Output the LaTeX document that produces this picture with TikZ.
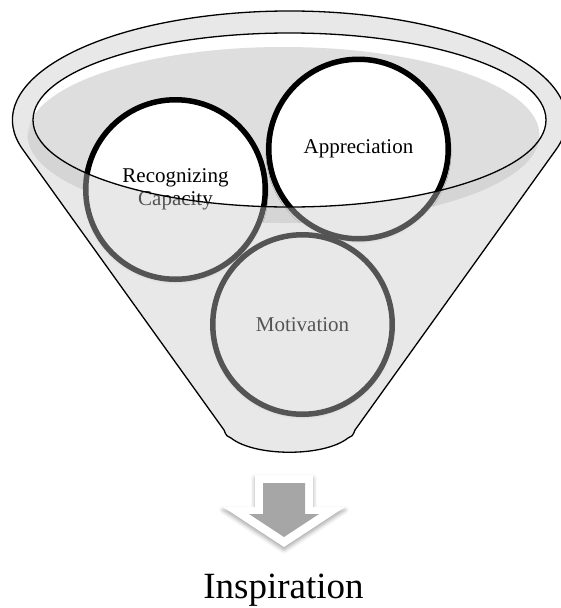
\documentclass[tikz,border=0pt]{standalone}
\usepackage{fontspec}
\setmainfont{Liberation Serif}
\usetikzlibrary{shadows.blur}
\begin{document}
\begin{tikzpicture}[x=1pt,y=-1pt,
  rim line/.style={line width=1.3pt,line join=round},
  rim fill/.style={fill=black!9},
  pit fill/.style={fill=black!13},
  front glass/.style={fill=black!21,fill opacity=0.42},
  ball/.style={circle,draw=black,line width=5.5pt,fill=white,minimum size=179.5pt,inner sep=0pt,
    align=center,font=\fontsize{21}{23}\selectfont,
    blur shadow={shadow xshift=0pt,shadow yshift=-2pt,shadow blur radius=3pt,shadow opacity=30}},
  arrow rim/.style={fill=white,blur shadow={shadow xshift=0pt,shadow yshift=-3pt,shadow blur radius=4pt,shadow opacity=35}},
  arrow core/.style={fill=black!35},
  ]
  \useasboundingbox (0,0) rectangle (561,608);

  % funnel geometry
  \coordinate (lt) at (22.8,149.5);
  \coordinate (rt) at (556.2,149.5);
  \coordinate (lb) at (224,430);
  \coordinate (rb) at (355,430);
  \coordinate (il) at (33,120);
  \coordinate (ir) at (546,120);

  % back of the funnel
  \fill[rim fill] (lt) arc[start angle=164.3,end angle=375.7,x radius=277,y radius=109]
    -- (ir) arc[start angle=0,end angle=180,x radius=256.5,y radius=87] -- cycle;
  \fill[white] (289.5,120) ellipse[x radius=256.5,y radius=87];
  \fill[pit fill] (283.5,135) ellipse[x radius=256,y radius=88];

  \node[ball] (recognizing) at (175.5,189.5) {Recognizing\\Capacity};
  \node[ball] (appreciation) at (358.5,149) {Appreciation};
  \node[ball] (motivation) at (302.5,324.5) {Motivation};

  % front of the funnel
  \fill[front glass] (lt) -- (il) arc[start angle=180,end angle=0,x radius=256.5,y radius=87]
    -- (rt) -- (rb) .. controls (353,436) and (351,437) .. (348,438)
    .. controls (324,457) and (255,457) .. (231,438)
    .. controls (228,437) and (226,436) .. (lb) -- cycle;
  \draw[rim line] (lt) arc[start angle=164.3,end angle=375.7,x radius=277,y radius=109]
    -- (rb) .. controls (353,436) and (351,437) .. (348,438)
    .. controls (324,457) and (255,457) .. (231,438)
    .. controls (228,437) and (226,436) .. (lb) -- cycle;
  \draw[rim line] (289.5,120) ellipse[x radius=256.5,y radius=87];

  % arrow
  \fill[arrow rim] (255,475) -- (313,475) -- (313,507) -- (345,507) -- (284,547) -- (223,507) -- (255,507) -- cycle;
  \fill[arrow core] (263,483) -- (305,483) -- (305,514) -- (319,514) -- (284,537) -- (249,514) -- (263,514) -- cycle;

  \node[anchor=base,font=\fontsize{37}{44}\selectfont,inner sep=0pt] (inspiration) at (283.5,598) {Inspiration};
\end{tikzpicture}
\end{document}
